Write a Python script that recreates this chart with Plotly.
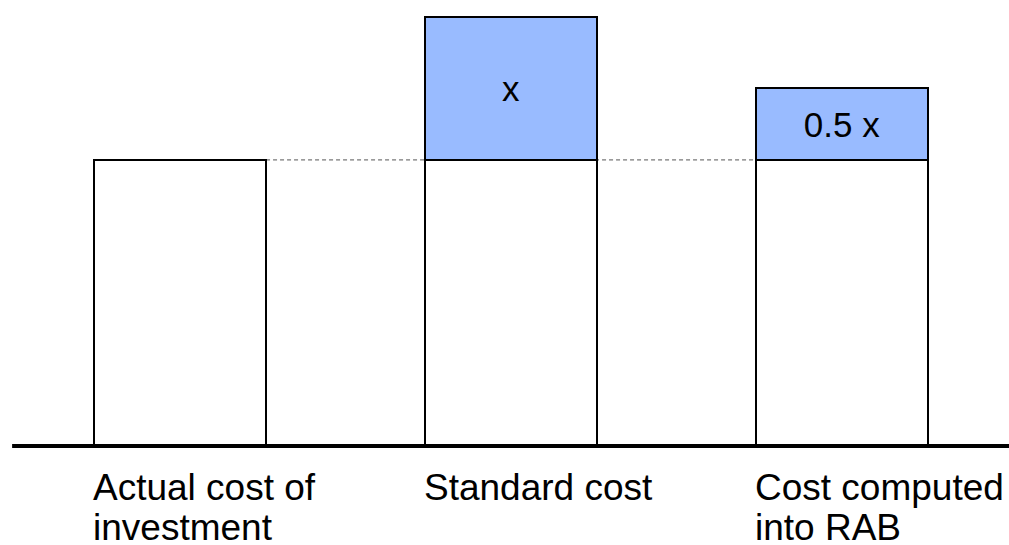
import plotly.graph_objects as go

# Cost build-up: actual cost, standard cost (actual + x), cost computed into RAB (actual + 0.5x)
categories = ["Actual cost of\ninvestment", "Standard cost", "Cost computed\ninto RAB"]
base_values = [100, 100, 100]
extra_values = [0, 50, 25]
extra_labels = ["", "x", "0.5 x"]

FONT = "Liberation Sans"
BAR_W = 0.52
positions = list(range(len(categories)))

fig = go.Figure()

# white base segment
fig.add_trace(go.Bar(
    x=positions, y=base_values, width=BAR_W,
    marker=dict(color="white", line=dict(color="black", width=2)),
    hoverinfo="skip", showlegend=False,
))

# blue increment on top
fig.add_trace(go.Bar(
    x=positions, y=extra_values, width=BAR_W,
    marker=dict(color="#99bbff", line=dict(color="black", width=2)),
    text=extra_labels, textposition="inside", insidetextanchor="middle",
    textangle=0, textfont=dict(family=FONT, size=35, color="black"),
    constraintext="none",
    hoverinfo="skip", showlegend=False,
))

# dashed reference line at the level of the actual cost
fig.add_shape(
    type="line", xref="x", yref="y",
    x0=positions[0] + BAR_W / 2, x1=positions[-1] - BAR_W / 2,
    y0=base_values[0], y1=base_values[0],
    line=dict(color="#555555", width=1, dash="4px,3px"), layer="below",
)

# heavy baseline
fig.add_shape(
    type="line", xref="paper", yref="y",
    x0=0.012, x1=1.0, y0=0, y1=0,
    line=dict(color="black", width=4), layer="above",
)

# category labels, left-aligned under each bar
for pos, label in zip(positions, categories):
    for i, line in enumerate(label.split("\n")):
        fig.add_annotation(
            x=pos - BAR_W / 2, y=-14.5 - 14.0 * i, xref="x", yref="y",
            text=line, showarrow=False, xanchor="left", yanchor="middle",
            xshift=-3,
            font=dict(family=FONT, size=37, color="black"),
        )

fig.update_layout(
    width=1009, height=545,
    margin=dict(l=0, r=0, t=0, b=0),
    paper_bgcolor="white", plot_bgcolor="white",
    barmode="stack",
    xaxis=dict(range=[-0.5438, 2.5045], visible=False, fixedrange=True),
    yaxis=dict(range=[-34.6, 155.9], visible=False, fixedrange=True),
)

fig.write_html("out.html")
